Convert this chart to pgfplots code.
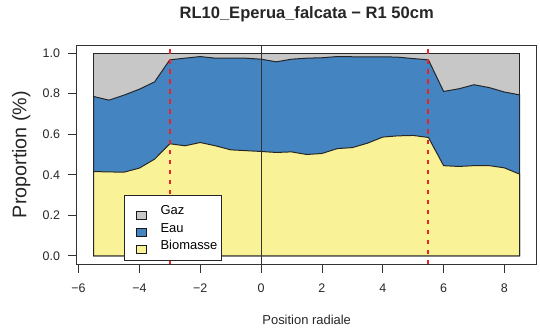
\documentclass[border=0pt]{standalone}
\usepackage{pgfplots}
\pgfplotsset{compat=1.18}
\usepackage{fontspec}
\setmainfont{Liberation Sans}
\definecolor{gazc}{RGB}{199,199,199}
\definecolor{eauc}{RGB}{68,132,193}
\definecolor{bioc}{RGB}{249,242,150}
\definecolor{redl}{RGB}{235,35,40}
\begin{document}
\begin{tikzpicture}
\begin{axis}[
  scale only axis, width=460bp, height=219bp,
  at={(0,0)}, anchor=south west,
  xmin=-6.06, xmax=9.06, ymin=-0.04, ymax=1.04,
  xtick pos=bottom, ytick pos=left,
  tick align=outside, major tick length=8.5bp,
  tick style={black!80, line width=0.8bp},
  axis line style={black!80, line width=0.9bp},
  xtick={-6,-4,-2,0,2,4,6,8},
  xticklabels={−6,−4,−2,0,2,4,6,8},
  ytick={0,0.2,0.4,0.6,0.8,1},
  yticklabels={0.0,0.2,0.4,0.6,0.8,1.0},
  ticklabel style={font=\fontsize{12.5}{12.5}\selectfont, text=black!85},
  xticklabel style={anchor=north, inner sep=0pt, yshift=-11.5bp},
  yticklabel style={anchor=east, inner sep=0pt, xshift=-8bp},
  title={RL10\_Eperua\_falcata − R1 50cm},
  title style={at={(axis description cs:0.5,1.0937)}, anchor=base, inner sep=0pt, font=\bfseries\fontsize{16.6}{16.6}\selectfont, text=black!85},
  xlabel={Position radiale},
  xlabel style={at={(axis description cs:0.5,-0.2763)}, anchor=base, inner sep=0pt, font=\fontsize{13}{13}\selectfont, text=black!85},
  ylabel={Proportion (\%)},
  ylabel style={at={(axis description cs:-0.1096,0.5)}, anchor=base, rotate=0, inner sep=0pt, font=\fontsize{19.8}{19.8}\selectfont, text=black!85},
  legend style={at={(axis cs:-4.505,0.301)}, anchor=north west, draw=black!85, line width=0.7bp, fill=white,
    inner xsep=4bp, inner ysep=7bp, row sep=0pt, column sep=0pt,
    font=\fontsize{13}{13}\selectfont,
    nodes={inner sep=0pt, text height=12.75bp, text depth=3.55bp, anchor=base west}},
  legend cell align=left,
  legend image code/.code={\path (0.6bp,0bp); \draw[#1, draw=black!90, line width=0.6bp] (8bp,-4bp) rectangle (18bp,4bp);},
]
\addplot[fill=gazc, draw=black!85, line width=1bp] coordinates {
(-5.5,1) (8.5,1)} \closedcycle;
\addlegendentry{\hspace{14bp}Gaz}
\addplot[fill=eauc, draw=black!85, line width=1bp] coordinates {
(-5.5,0.786) (-5.0,0.768) (-4.5,0.793) (-4.0,0.822) (-3.5,0.858) (-3.0,0.967)
(-2.5,0.975) (-2.0,0.983) (-1.5,0.975) (-1.0,0.975) (-0.5,0.975) (0.0,0.970)
(0.5,0.957) (1.0,0.970) (1.5,0.975) (2.0,0.977) (2.5,0.983) (3.0,0.982)
(3.5,0.982) (4.0,0.982) (4.5,0.980) (5.0,0.973) (5.5,0.967) (6.0,0.811)
(6.5,0.824) (7.0,0.844) (7.5,0.830) (8.0,0.808) (8.5,0.794)} \closedcycle;
\addlegendentry{\hspace{14bp}Eau}
\addplot[fill=bioc, draw=black!85, line width=1bp] coordinates {
(-5.5,0.416) (-5.0,0.414) (-4.5,0.413) (-4.0,0.433) (-3.5,0.477) (-3.0,0.553)
(-2.5,0.543) (-2.0,0.559) (-1.5,0.543) (-1.0,0.523) (-0.5,0.519) (0.0,0.515)
(0.5,0.510) (1.0,0.513) (1.5,0.500) (2.0,0.505) (2.5,0.529) (3.0,0.534)
(3.5,0.556) (4.0,0.586) (4.5,0.592) (5.0,0.594) (5.5,0.584) (6.0,0.445)
(6.5,0.441) (7.0,0.445) (7.5,0.445) (8.0,0.434) (8.5,0.403)} \closedcycle;
\addlegendentry{\hspace{14bp}Biomasse}
\addplot[forget plot, black!80, line width=1bp] coordinates {(0,-0.04) (0,1.04)};
\addplot[forget plot, redl, line width=2bp, dash pattern=on 4.5bp off 5.5bp] coordinates {(-3,-0.04) (-3,1.04)};
\addplot[forget plot, redl, line width=2bp, dash pattern=on 4.5bp off 5.5bp] coordinates {(5.5,-0.04) (5.5,1.04)};
\end{axis}
\pgfresetboundingbox
\useasboundingbox (-76.7bp,-72bp) rectangle (463.3bp,264bp);
\end{tikzpicture}
\end{document}
